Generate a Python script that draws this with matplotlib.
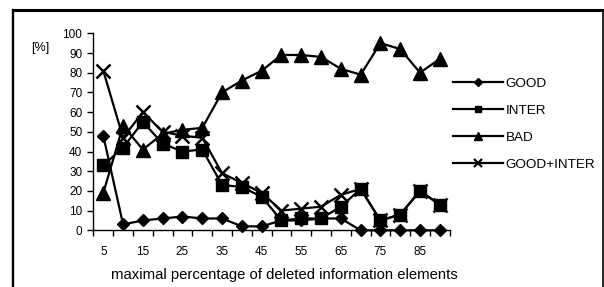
import matplotlib
matplotlib.use('Agg')
import matplotlib.pyplot as plt
from matplotlib.lines import Line2D

plt.rcParams['font.family'] = ['Liberation Sans', 'DejaVu Sans']
plt.rcParams['font.size'] = 8.5

# data
pct = [5, 10, 15, 20, 25, 30, 35, 40, 45, 50, 55, 60, 65, 70, 75, 80, 85, 90]
good = [48, 3, 5, 6, 7, 6, 6, 2, 2, 5, 5, 6, 6, 0, 0, 0, 0, 0]
inter = [33, 42, 55, 44, 40, 41, 23, 22, 17, 5, 6, 6, 12, 21, 5, 8, 20, 13]
bad = [19, 53, 41, 49, 51, 52, 70, 76, 81, 89, 89, 88, 82, 79, 95, 92, 80, 87]
good_inter = [81, 47, 60, 50, 48, 47, 29, 24, 19, 10, 11, 12, 18, 21, 5, 8, 20, 13]
xlabels = [5, 15, 25, 35, 45, 55, 65, 75, 85]
ylabels = list(range(0, 101, 10))

W, H = 604, 287
fig = plt.figure(figsize=(W / 100, H / 100), dpi=100)
ax = fig.add_axes([93.4 / W, 1 - 230.3 / H, (449.7 - 93.4) / W, (230.3 - 33.3) / H])

lw = 1.6
ax.plot(pct, good, color='k', lw=lw, marker='D', ms=6.5, mfc='k', mec='k', clip_on=False, zorder=3)
ax.plot(pct, inter, color='k', lw=lw, marker='s', ms=9, mfc='k', mec='k', clip_on=False, zorder=4)
ax.plot(pct, bad, color='k', lw=lw, marker='^', ms=9.5, mfc='k', mec='k', clip_on=False, zorder=3)
ax.plot(pct, good_inter, color='k', lw=lw, marker='x', ms=9.5, mew=1.8, mec='k', clip_on=False, zorder=2)

ax.set_xlim(2.5, 92.5)
ax.set_ylim(0, 100)
ax.set_yticks(ylabels)
ax.set_xticks(xlabels)
ax.set_xticks([p - 2.5 for p in pct] + [92.5], minor=True)
ax.tick_params(axis='x', which='major', length=0, pad=11)
ax.tick_params(axis='x', which='minor', length=4, width=1, direction='out')
ax.tick_params(axis='y', length=4, width=1, direction='out', pad=4)
for s in ['top', 'right']:
    ax.spines[s].set_visible(False)
for s in ['left', 'bottom']:
    ax.spines[s].set_linewidth(1)

fig.text(40 / W, 1 - 48 / H, '[%]', ha='center', va='center', fontsize=9)
fig.text(284.5 / W, 1 - 275 / H, 'maximal percentage of deleted information elements',
         ha='center', va='center', fontsize=10.7)

handles = [
    Line2D([], [], color='k', lw=lw, marker='D', ms=4, mfc='k'),
    Line2D([], [], color='k', lw=lw, marker='s', ms=5, mfc='k'),
    Line2D([], [], color='k', lw=lw, marker='^', ms=6, mfc='k'),
    Line2D([], [], color='k', lw=lw, marker='x', ms=6, mew=1.6),
]
fig.legend(handles, ['GOOD', 'INTER', 'BAD', 'GOOD+INTER'], loc='center left',
           bbox_to_anchor=(453 / W, 1 - 124 / H), frameon=False, borderpad=0,
           borderaxespad=0, handlelength=3.7, handletextpad=0.22, labelspacing=1.08,
           fontsize=9.7)

# outer frame
fig.add_artist(Line2D([13 / W, 13 / W], [0, 1 - 10 / H], color='k', lw=1.7, transform=fig.transFigure))
fig.add_artist(Line2D([13 / W, 1], [1 - 10 / H, 1 - 10 / H], color='k', lw=2.2, transform=fig.transFigure))
fig.add_artist(Line2D([603 / W, 603 / W], [0, 1 - 10 / H], color='k', lw=1.2, transform=fig.transFigure))

fig.savefig('out.png', dpi=100)
